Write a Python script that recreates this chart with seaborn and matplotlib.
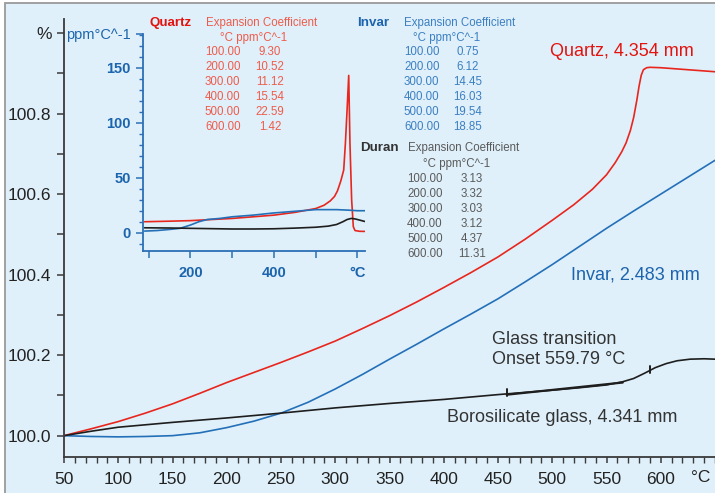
import matplotlib
matplotlib.use("Agg")
import matplotlib.pyplot as plt
from matplotlib.patches import Rectangle
import numpy as np
import pandas as pd
import seaborn as sns

# ---------------- data ----------------
quartz_T = [50, 75, 100, 125, 150, 175, 200, 225, 250, 275, 300, 325, 350, 375, 400, 425,
            450, 475, 500, 520, 537, 550, 558, 564, 568, 572, 575, 578, 580, 582, 584, 587,
            590, 600, 620, 650]
quartz_dl = [100.0, 100.017, 100.035, 100.056, 100.079, 100.105, 100.132, 100.157, 100.182,
             100.208, 100.235, 100.266, 100.298, 100.332, 100.368, 100.405, 100.444, 100.488,
             100.535, 100.574, 100.612, 100.648, 100.678, 100.705, 100.727, 100.758, 100.79,
             100.834, 100.868, 100.895, 100.909, 100.914, 100.915, 100.914, 100.91, 100.904]

invar_T = [50, 75, 100, 125, 150, 175, 200, 225, 250, 275, 300, 325, 350, 375, 400,
           425, 450, 475, 500, 525, 550, 575, 600, 625, 650]
invar_dl = [100.0, 99.998, 99.997, 99.998, 100.0, 100.007, 100.02, 100.036, 100.056,
            100.083, 100.116, 100.152, 100.19, 100.227, 100.265, 100.302, 100.34, 100.382,
            100.425, 100.47, 100.515, 100.558, 100.60, 100.642, 100.684]

duran_T = [50, 75, 100, 125, 150, 200, 250, 300, 350, 400, 450, 500, 525, 550, 565, 575,
           585, 595, 605, 615, 627, 640, 650]
duran_dl = [100.0, 100.011, 100.021, 100.027, 100.033, 100.044, 100.056, 100.069, 100.08,
            100.09, 100.102, 100.113, 100.119, 100.126, 100.134, 100.142, 100.155, 100.169,
            100.179, 100.186, 100.19, 100.191, 100.19]

# inset: expansion coefficient (ppm/°C)
qa_T = [90, 150, 200, 250, 300, 350, 400, 450, 500, 520, 535, 545, 552, 560, 567, 571, 575,
        579, 582, 586, 590, 594, 605, 620]
qa_v = [10, 10.5, 11, 12, 13, 14.5, 16, 18.5, 22, 25, 29, 33, 38, 47, 57, 81, 111, 143, 81,
        30, 5.5, 2, 1.3, 1.2]
ia_T = [90, 120, 150, 175, 200, 220, 240, 270, 300, 350, 400, 450, 500, 550, 580, 600, 620]
ia_v = [1.5, 2, 3, 4, 7, 10, 12, 13, 14.5, 16, 18, 19.5, 21, 21, 20.5, 20, 20]
da_T = [90, 150, 200, 250, 300, 350, 400, 450, 500, 530, 550, 565, 575, 585, 595, 605, 620]
da_v = [4.5, 4.3, 4, 3.7, 3.4, 3.4, 3.6, 4.2, 5, 6, 7.5, 10, 12, 13, 12.5, 11.5, 10]

table_T = [100, 200, 300, 400, 500, 600]
quartz_cte = [9.30, 10.52, 11.12, 15.54, 22.59, 1.42]
invar_cte = [0.75, 6.12, 14.45, 16.03, 19.54, 18.85]
duran_cte = [3.13, 3.32, 3.03, 3.12, 4.37, 11.31]

glass_marks = [458, 590]
tangent_T = [458, 565]

x_major = list(range(50, 601, 50))
y_major = [round(100.0 + 0.1 * i, 1) for i in range(11)]
inset_y_major = [0, 50, 100, 150, 181]
inset_x_major = [100, 200, 300, 400, 500, 600]

# ---------------- style ----------------
sns.set_theme(style="ticks")
plt.rcParams["font.family"] = ["Liberation Sans", "DejaVu Sans"]

W, H = 715, 493
BG = "#dff0fa"
RED, RED_LBL, RED_TAB = "#e8261e", "#e3140f", "#ef5b4b"
BLUE, BLUE_LBL, BLUE_TAB, BLUE_AX = "#2470b8", "#1c64ad", "#3c7fc2", "#2b6fb6"
BLACK, DARK = "#1e1e1e", "#333333"
AXC = "#3a3a3a"


def px(x, y):
    return x / W, 1 - y / H


fig = plt.figure(figsize=(W / 100, H / 100), dpi=100)
fig.patch.set_facecolor("white")
fig.add_artist(Rectangle((5 / W, -0.05), 1.0, 1 - 3 / H + 0.05, transform=fig.transFigure,
                         facecolor=BG, edgecolor="#9a9a9a", lw=1.3, zorder=0))

# ---------------- main axes ----------------
ax = fig.add_axes([64 / W, 1 - 457 / H, 1 - 64 / W, (457 - 19) / H])
ax.set_facecolor("none")

main = pd.concat([
    pd.DataFrame({"T": quartz_T, "dl": quartz_dl, "m": "Quartz"}),
    pd.DataFrame({"T": invar_T, "dl": invar_dl, "m": "Invar"}),
    pd.DataFrame({"T": duran_T, "dl": duran_dl, "m": "Duran"}),
])
sns.lineplot(data=main, x="T", y="dl", hue="m", estimator=None, legend=False, ax=ax,
             palette={"Quartz": RED, "Invar": BLUE, "Duran": BLACK}, linewidth=1.2)

# glass transition decorations
ty = np.interp(tangent_T, duran_T, duran_dl)
ax.plot(tangent_T, ty - 0.002, color=BLACK, lw=1.6)
for t in glass_marks:
    yv = np.interp(t, duran_T, duran_dl)
    ax.plot([t, t], [yv - 0.006, yv + 0.012], color=BLACK, lw=1.4)

ax.set_xlim(50, 650)
ax.set_ylim(99.947, 101.035)
ax.set_xticks(x_major)
ax.set_xticks(range(50, 651, 10), minor=True)
ax.set_xticklabels([str(v) for v in x_major])
ax.set_yticks(y_major)
ylabels = []
for i, v in enumerate(y_major):
    if v >= 101.0:
        ylabels.append("%")
    elif i % 2 == 0:
        ylabels.append(f"{v:.1f}")
    else:
        ylabels.append("")
ax.set_yticklabels(ylabels)
ax.set_xlabel("")
ax.set_ylabel("")
for s in ["top", "right"]:
    ax.spines[s].set_visible(False)
for s in ["left", "bottom"]:
    ax.spines[s].set_color(AXC)
    ax.spines[s].set_linewidth(1.3)
ax.tick_params(axis="y", which="major", length=5, width=1.1, color=AXC, pad=4,
               labelsize=12.5, labelcolor="#222222")
ax.tick_params(axis="x", which="major", length=4, width=1.1, color=AXC, pad=7,
               labelsize=12.5, labelcolor="#222222")
ax.tick_params(axis="x", which="minor", length=4, width=1.0, color=AXC)
ax.annotate("°C", xy=(637, 0), xycoords=("data", "axes fraction"), xytext=(0, -9.5),
            textcoords="offset points", ha="center", va="top", fontsize=12.5,
            color="#222222", annotation_clip=False)

# labels on main chart
fig.text(*px(622, 52), "Quartz, 4.354 mm", color=RED_LBL, fontsize=13, ha="center", va="center")
fig.text(*px(635, 275), "Invar, 2.483 mm", color=BLUE_LBL, fontsize=13, ha="center", va="center")
fig.text(*px(492, 340), "Glass transition", color=DARK, fontsize=13, ha="left", va="center")
fig.text(*px(492, 360), "Onset 559.79 °C", color=DARK, fontsize=13, ha="left", va="center")
fig.text(*px(447, 417), "Borosilicate glass, 4.341 mm", color=DARK, fontsize=13,
         ha="left", va="center")

# ---------------- inset ----------------
ia = fig.add_axes([143 / W, 1 - 251 / H, (365 - 143) / W, (251 - 33.6) / H])
ia.set_facecolor("none")
ins = pd.concat([
    pd.DataFrame({"T": qa_T, "v": qa_v, "m": "Quartz"}),
    pd.DataFrame({"T": ia_T, "v": ia_v, "m": "Invar"}),
    pd.DataFrame({"T": da_T, "v": da_v, "m": "Duran"}),
])
sns.lineplot(data=ins, x="T", y="v", hue="m", estimator=None, legend=False, ax=ia,
             palette={"Quartz": RED, "Invar": BLUE, "Duran": BLACK}, linewidth=1.2)
ia.set_xlim(86.3, 618)
ia.set_ylim(-16.6, 181)
ia.set_xticks(inset_x_major)
ia.set_xticklabels(["", "200", "", "400", "", "°C"])
ia.set_yticks(inset_y_major)
ia.set_yticklabels(["0", "50", "100", "150", "ppm°C^-1"])
ia.set_yticks(range(-10, 181, 10), minor=True)
ia.set_xlabel("")
ia.set_ylabel("")
for s in ["top", "right"]:
    ia.spines[s].set_visible(False)
for s in ["left", "bottom"]:
    ia.spines[s].set_color(BLUE_AX)
    ia.spines[s].set_linewidth(1.3)
ia.tick_params(axis="both", which="major", length=5, width=1.1, color=BLUE_AX,
               labelsize=10.5, labelcolor=BLUE_LBL)
ia.tick_params(axis="y", which="minor", length=3, width=1.0, color=BLUE_AX)
ia.tick_params(axis="y", pad=4)
ia.tick_params(axis="x", pad=6)
for lbl in ia.get_xticklabels() + ia.get_yticklabels()[:4]:
    lbl.set_fontweight("bold")

# ---------------- tables ----------------
TFS = 8.3


def table(title, tcol, x_title, x_ec, x_sub, x_c1, x_c2, y_title, y_sub, y_row0, vals, tab_col):
    fig.text(*px(x_title, y_title), title, color=tcol, fontsize=9.6, fontweight="bold",
             ha="left", va="center")
    fig.text(*px(x_ec, y_title), "Expansion Coefficient", color=tab_col, fontsize=TFS,
             ha="left", va="center")
    fig.text(*px(x_sub, y_sub), "°C ppm°C^-1", color=tab_col, fontsize=TFS,
             ha="left", va="center")
    for i, (t, v) in enumerate(zip(table_T, vals)):
        yy = y_row0 + 14.95 * i
        fig.text(*px(x_c1, yy), f"{t:.2f}", color=tab_col, fontsize=TFS, ha="center", va="center")
        fig.text(*px(x_c2, yy), f"{v:.2f}", color=tab_col, fontsize=TFS, ha="center", va="center")


table("Quartz", RED_LBL, 150, 206, 220, 222.7, 270, 23, 37.7, 52.3, quartz_cte, RED_TAB)
table("Invar", BLUE_LBL, 356.7, 404.3, 413, 421.7, 467.3, 23, 37.7, 52.3, invar_cte, BLUE_TAB)
table("Duran", DARK, 360, 408.3, 422.7, 425, 471.7, 148.3, 164, 179, duran_cte, "#5a5a5a")

fig.savefig("out.png", dpi=100)
